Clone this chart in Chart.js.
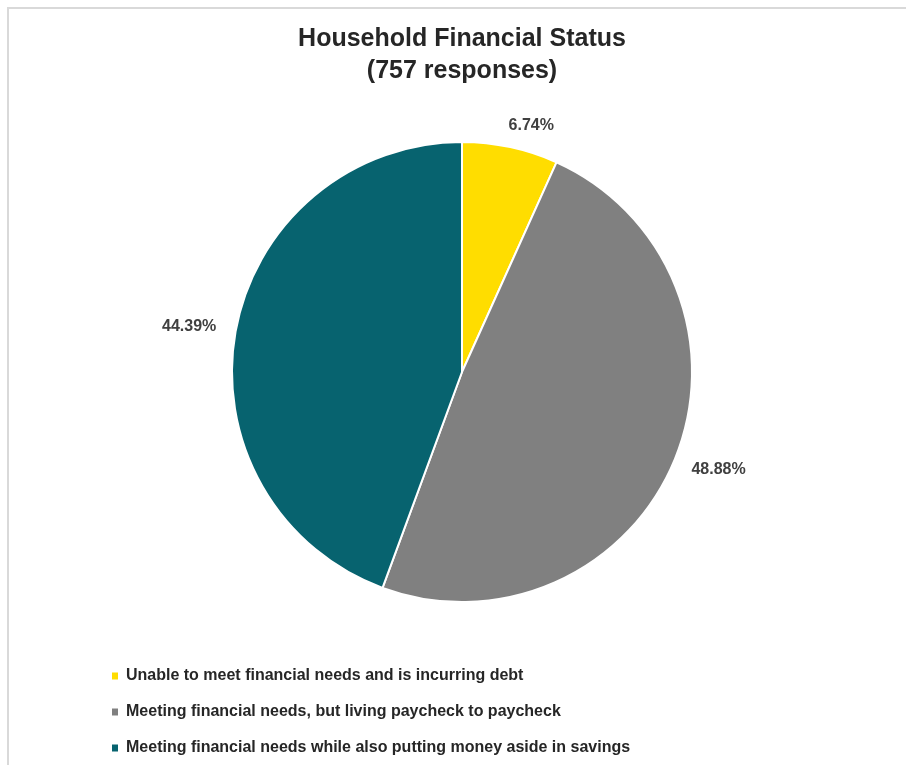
<!DOCTYPE html>
<html>
<head>
<meta charset="utf-8">
<title>Household Financial Status</title>
<script src="https://cdn.jsdelivr.net/npm/chart.js@4.4.1/dist/chart.umd.min.js"></script>
<style>
  html, body { margin: 0; padding: 0; background: #fff; overflow: hidden; }
  #frame {
    position: absolute; left: 7px; top: 7px; width: 1000px; height: 900px;
    border-left: 2px solid #d9d9d9; border-top: 2px solid #d9d9d9;
  }
  #wrap { position: absolute; left: 0; top: 0; width: 906px; height: 766px; }
</style>
</head>
<body>
<div id="frame"></div>
<div id="wrap"><canvas id="statusChart"></canvas></div>
<script>
  // Survey answers and their share of the 757 responses (%)
  const categories = [
    'Unable to meet financial needs and is incurring debt',
    'Meeting financial needs, but living paycheck to paycheck',
    'Meeting financial needs while also putting money aside in savings'
  ];
  const shares = [6.74, 48.88, 44.39];
  const sliceColors = ['#FFDD00', '#808080', '#07636F'];
  const titleLines = ['Household Financial Status', '(757 responses)'];

  const FONT = "'Liberation Sans', Arial, Helvetica, sans-serif";

  // Percentage labels placed just outside each slice
  const outsideLabels = {
    id: 'outsideLabels',
    afterDatasetsDraw(chart) {
      const ctx = chart.ctx;
      const meta = chart.getDatasetMeta(0);
      ctx.save();
      ctx.font = 'bold 16px ' + FONT;
      ctx.fillStyle = '#404040';
      ctx.textAlign = 'center';
      ctx.textBaseline = 'middle';
      meta.data.forEach((arc, i) => {
        const p = arc.getProps(['x', 'y', 'startAngle', 'endAngle', 'outerRadius'], true);
        const mid = (p.startAngle + p.endAngle) / 2;
        const dx = Math.cos(mid);
        const dy = Math.sin(mid);
        const text = shares[i].toFixed(2) + '%';
        const w = ctx.measureText(text).width;
        const dist = p.outerRadius + 20;
        const tx = p.x + dist * dx + dx * w / 2 + (dy < -0.9 ? 12 : 0);
        const ty = p.y + dist * dy + dy * 8 + (dy < -0.9 ? 6 : 0);
        ctx.fillText(text, tx, ty);
      });
      ctx.restore();
    }
  };

  document.addEventListener('DOMContentLoaded', function() {
    const ctx = document.getElementById('statusChart').getContext('2d');
    const pieLabels = Chart.overrides.pie.plugins.legend.labels.generateLabels;

    new Chart(ctx, {
      type: 'pie',
      data: {
        labels: categories,
        datasets: [{
          data: shares,
          backgroundColor: sliceColors,
          borderColor: '#ffffff',
          borderWidth: 2,
          radius: 230
        }]
      },
      options: {
        responsive: true,
        maintainAspectRatio: false,
        animation: false,
        layout: { padding: { left: 92, right: 74, top: 0, bottom: 0 } },
        plugins: {
          title: {
            display: true,
            text: titleLines,
            color: '#262626',
            font: { family: FONT, size: 25, weight: 'bold', lineHeight: 1.28 },
            padding: { top: 23, bottom: 9 }
          },
          legend: {
            display: true,
            position: 'bottom',
            align: 'start',
            labels: {
              color: '#262626',
              font: { family: FONT, size: 16, weight: 'bold' },
              boxWidth: 6,
              boxHeight: 7,
              padding: 20,
              generateLabels(chart) {
                return pieLabels(chart).map(item => Object.assign(item, { lineWidth: 0 }));
              }
            }
          },
          tooltip: { enabled: false }
        }
      },
      plugins: [outsideLabels]
    });
  });
</script>
</body>
</html>
